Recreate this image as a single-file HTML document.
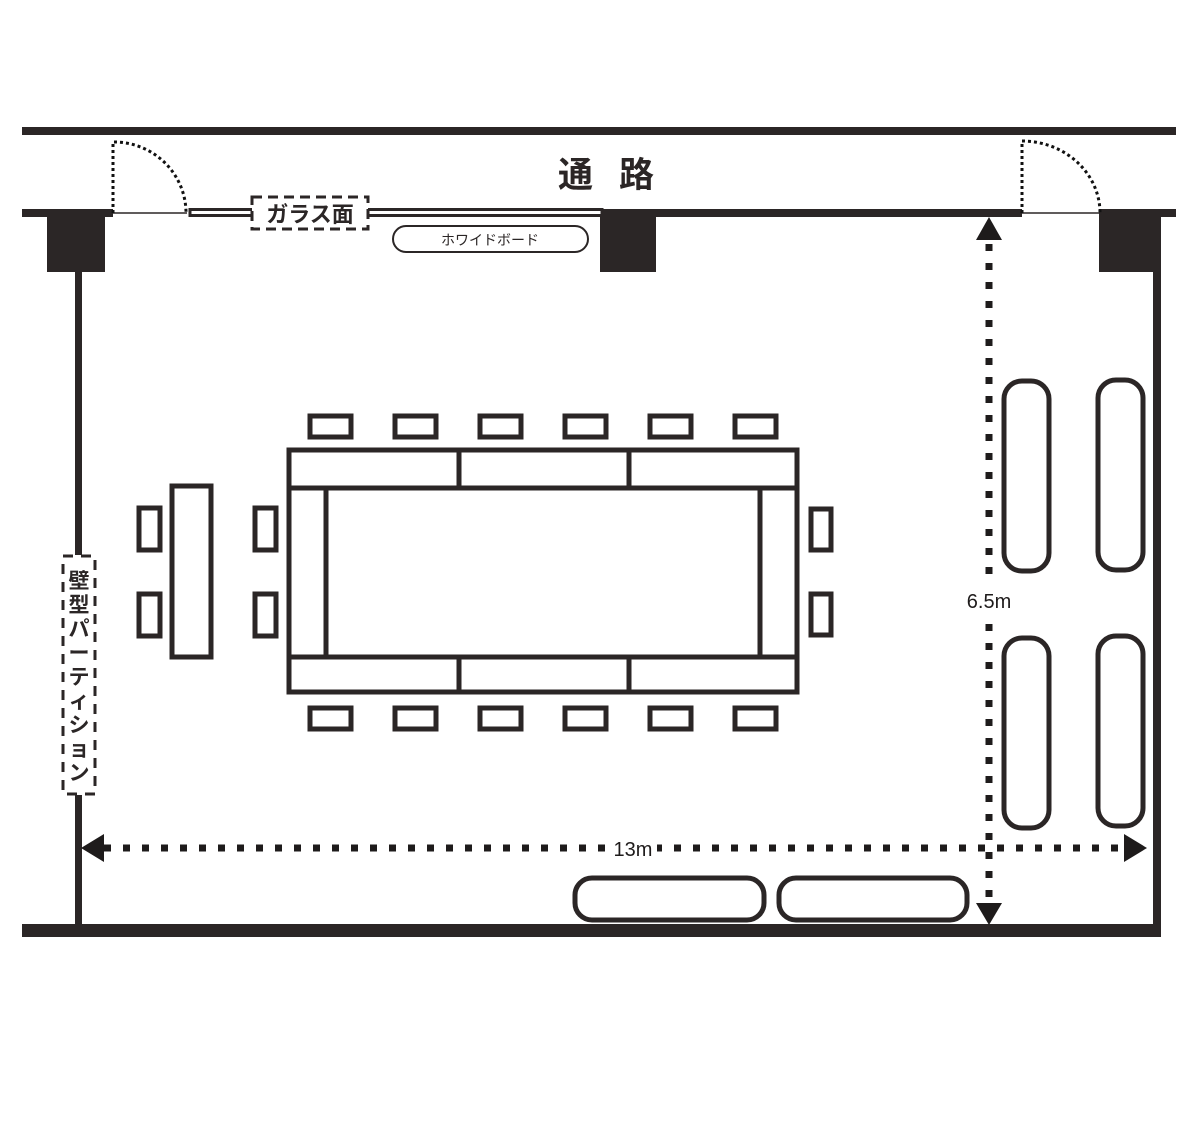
<!DOCTYPE html>
<html><head><meta charset="utf-8"><style>html,body{margin:0;padding:0;background:#fff}svg{display:block}</style></head>
<body>
<svg width="1200" height="1124" viewBox="0 0 1200 1124" xmlns="http://www.w3.org/2000/svg">
<g fill="#2b2626" stroke="none">
<rect x="22" y="127" width="1154" height="8"/>
<rect x="22" y="209" width="91" height="8"/>
<rect x="47" y="216" width="58" height="56"/>
<rect x="600" y="209" width="422" height="8"/>
<rect x="600" y="216" width="56" height="56"/>
<rect x="1099" y="209" width="77" height="8"/>
<rect x="1099" y="216" width="62" height="56"/>
<rect x="1153" y="216" width="8" height="721"/>
<rect x="22" y="924" width="1139" height="13"/>
<rect x="75" y="272" width="7" height="283"/>
<rect x="75" y="795" width="7" height="130"/>
</g>
<rect x="190" y="209.5" width="412" height="6" fill="#fff" stroke="#2b2626" stroke-width="3"/>
<line x1="113" y1="213" x2="187" y2="213" stroke="#2b2626" stroke-width="1.5"/>
<line x1="1022" y1="213" x2="1100" y2="213" stroke="#2b2626" stroke-width="1.5"/>
<g fill="none" stroke="#111" stroke-width="3" stroke-dasharray="3 3">
<path d="M113 213 V142 A72 71 0 0 1 186 213"/>
<path d="M1022 213 V141 A78 72 0 0 1 1100 213"/>
</g>
<rect x="252" y="197" width="116" height="32" fill="#fff" stroke="#2b2626" stroke-width="3" stroke-dasharray="10 6"/>
<text x="310" y="222" font-family="'Liberation Sans','Noto Sans CJK JP',sans-serif" font-size="22" font-weight="bold" text-anchor="middle" fill="#2b2626">ガラス面</text>
<rect x="393" y="226" width="195" height="26" rx="13" fill="#fff" stroke="#2b2626" stroke-width="2"/>
<text x="490" y="245" font-family="'Liberation Sans','Noto Sans CJK JP',sans-serif" font-size="14" text-anchor="middle" fill="#2b2626">ホワイドボード</text>
<text x="558" y="187" font-family="'Liberation Sans','Noto Sans CJK JP',sans-serif" font-size="35" font-weight="bold" fill="#2b2626" letter-spacing="26">通路</text>
<rect x="63" y="556" width="32" height="238" fill="#fff" stroke="#2b2626" stroke-width="3" stroke-dasharray="10 8"/>
<text font-family="'Liberation Sans','Noto Sans CJK JP',sans-serif" font-size="21" font-weight="bold" fill="#2b2626" text-anchor="middle">
<tspan x="79" y="588">壁</tspan><tspan x="79" y="612">型</tspan><tspan x="79" y="636">パ</tspan><tspan x="79" y="660">ー</tspan><tspan x="79" y="684">テ</tspan><tspan x="79" y="708">ィ</tspan><tspan x="79" y="732">シ</tspan><tspan x="79" y="756">ョ</tspan><tspan x="79" y="780">ン</tspan></text>
<g fill="none" stroke="#2b2626" stroke-width="5">
<rect x="289" y="450" width="508" height="242"/>
<line x1="289" y1="488" x2="797" y2="488"/>
<line x1="289" y1="657" x2="797" y2="657"/>
<line x1="326" y1="488" x2="326" y2="657"/>
<line x1="760" y1="488" x2="760" y2="657"/>
<line x1="459" y1="450" x2="459" y2="488"/>
<line x1="629" y1="450" x2="629" y2="488"/>
<line x1="459" y1="657" x2="459" y2="692"/>
<line x1="629" y1="657" x2="629" y2="692"/>
<rect x="310" y="416" width="41" height="21"/><rect x="395" y="416" width="41" height="21"/><rect x="480" y="416" width="41" height="21"/><rect x="565" y="416" width="41" height="21"/><rect x="650" y="416" width="41" height="21"/><rect x="735" y="416" width="41" height="21"/>
<rect x="310" y="708" width="41" height="21"/><rect x="395" y="708" width="41" height="21"/><rect x="480" y="708" width="41" height="21"/><rect x="565" y="708" width="41" height="21"/><rect x="650" y="708" width="41" height="21"/><rect x="735" y="708" width="41" height="21"/>
<rect x="811" y="509" width="20" height="41"/><rect x="811" y="594" width="20" height="41"/>
<rect x="139" y="508" width="21" height="42"/><rect x="139" y="594" width="21" height="42"/>
<rect x="255" y="508" width="21" height="42"/><rect x="255" y="594" width="21" height="42"/>
<rect x="172" y="486" width="39" height="171"/>
<rect x="1004" y="381" width="45" height="190" rx="18"/>
<rect x="1098" y="380" width="45" height="190" rx="18"/>
<rect x="1004" y="638" width="45" height="190" rx="18"/>
<rect x="1098" y="636" width="45" height="190" rx="18"/>
<rect x="575" y="878" width="189" height="42" rx="17"/>
<rect x="779" y="878" width="188" height="42" rx="17"/>
</g>
<g stroke="#1e1b1b" stroke-width="7" stroke-dasharray="7 12" fill="none">
<line x1="989" y1="244" x2="989" y2="902"/>
<line x1="104" y1="848" x2="1120" y2="848"/>
</g>
<g fill="#1e1b1b">
<polygon points="989,217 976,240 1002,240"/>
<polygon points="989,925 976,903 1002,903"/>
<polygon points="81,848 104,834 104,862"/>
<polygon points="1147,848 1124,834 1124,862"/>
</g>
<rect x="960" y="586" width="58" height="26" fill="#fff"/>
<text x="989" y="608" font-family="'Liberation Sans',sans-serif" font-size="20" text-anchor="middle" fill="#1e1b1b">6.5m</text>
<rect x="609" y="836" width="48" height="24" fill="#fff"/>
<text x="633" y="856" font-family="'Liberation Sans',sans-serif" font-size="20" text-anchor="middle" fill="#1e1b1b">13m</text>
</svg>
</body></html>
